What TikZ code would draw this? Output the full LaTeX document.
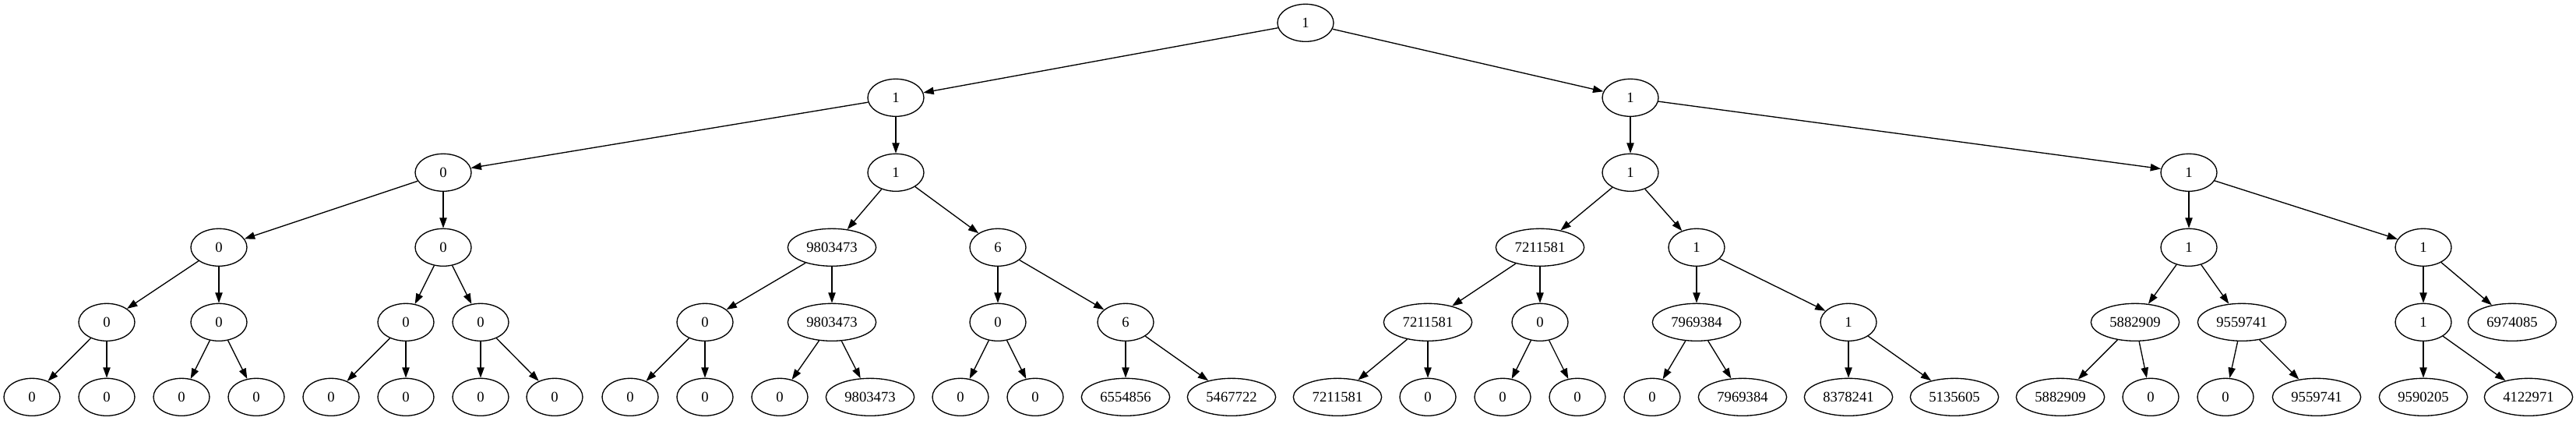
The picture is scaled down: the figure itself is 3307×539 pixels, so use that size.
\documentclass[tikz,border=0pt]{standalone}
\usepackage{fontspec}
\setmainfont{Liberation Serif}
\usetikzlibrary{shapes.geometric,arrows.meta}
\begin{document}
\begin{tikzpicture}[x=0.75pt,y=-0.75pt,
  nd/.style={ellipse,draw,line width=1pt,minimum width=54pt,minimum height=36pt,inner sep=0pt,font=\fontsize{14}{16}\selectfont},
  wd/.style={nd,minimum width=85pt},
  ed/.style={line width=1pt,-{Triangle[length=10pt,width=7pt]}}]
\useasboundingbox (0,0) rectangle (3307,539);
% level 0
\node[nd] (r) at (1676,29.3) {1};
% level 1
\node[nd] (a) at (1150,125.3) {1};
\node[nd] (b) at (2093,125.3) {1};
% level 2
\node[nd] (a1) at (569,221.3) {0};
\node[nd] (a2) at (1150,221.3) {1};
\node[nd] (b1) at (2093,221.3) {1};
\node[nd] (b2) at (2810,221.3) {1};
% level 3
\node[nd] (a11) at (281,317.3) {0};
\node[nd] (a12) at (569,317.3) {0};
\node[wd] (a21) at (1068,317.3) {9803473};
\node[nd] (a22) at (1281,317.3) {6};
\node[wd] (b11) at (1977,317.3) {7211581};
\node[nd] (b12) at (2178,317.3) {1};
\node[nd] (b21) at (2810,317.3) {1};
\node[nd] (b22) at (3111,317.3) {1};
% level 4
\node[nd] (a111) at (137,413.3) {0};
\node[nd] (a112) at (281,413.3) {0};
\node[nd] (a121) at (521,413.3) {0};
\node[nd] (a122) at (617,413.3) {0};
\node[nd] (a211) at (905,413.3) {0};
\node[wd] (a212) at (1068,413.3) {9803473};
\node[nd] (a221) at (1281,413.3) {0};
\node[nd] (a222) at (1445,413.3) {6};
\node[wd] (b111) at (1833,413.3) {7211581};
\node[nd] (b112) at (1977,413.3) {0};
\node[wd] (b121) at (2178,413.3) {7969384};
\node[nd] (b122) at (2373,413.3) {1};
\node[wd] (b211) at (2741,413.3) {5882909};
\node[wd] (b212) at (2878,413.3) {9559741};
\node[nd] (b221) at (3111,413.3) {1};
\node[wd] (b222) at (3225,413.3) {6974085};
% level 5
\node[nd] (a1111) at (41,509.3) {0};
\node[nd] (a1112) at (137,509.3) {0};
\node[nd] (a1121) at (233,509.3) {0};
\node[nd] (a1122) at (329,509.3) {0};
\node[nd] (a1211) at (425,509.3) {0};
\node[nd] (a1212) at (521,509.3) {0};
\node[nd] (a1221) at (617,509.3) {0};
\node[nd] (a1222) at (712,509.3) {0};
\node[nd] (a2111) at (809,509.3) {0};
\node[nd] (a2112) at (905,509.3) {0};
\node[nd] (a2121) at (1001,509.3) {0};
\node[wd] (a2122) at (1117,509.3) {9803473};
\node[nd] (a2211) at (1233,509.3) {0};
\node[nd] (a2212) at (1329,509.3) {0};
\node[wd] (a2221) at (1445,509.3) {6554856};
\node[wd] (a2222) at (1581,509.3) {5467722};
\node[wd] (b1111) at (1717,509.3) {7211581};
\node[nd] (b1112) at (1833,509.3) {0};
\node[nd] (b1121) at (1929,509.3) {0};
\node[nd] (b1122) at (2025,509.3) {0};
\node[nd] (b1211) at (2121,509.3) {0};
\node[wd] (b1212) at (2237,509.3) {7969384};
\node[wd] (b1221) at (2373,509.3) {8378241};
\node[wd] (b1222) at (2509,509.3) {5135605};
\node[wd] (b2111) at (2645,509.3) {5882909};
\node[nd] (b2112) at (2761,509.3) {0};
\node[nd] (b2121) at (2857,509.3) {0};
\node[wd] (b2122) at (2974,509.3) {9559741};
\node[wd] (b2211) at (3111,509.3) {9590205};
\node[wd] (b2212) at (3246,509.3) {4122971};
% edges
\foreach \p/\c in {r/a, r/b, a/a1, a/a2, b/b1, b/b2,
  a1/a11, a1/a12, a2/a21, a2/a22, b1/b11, b1/b12, b2/b21, b2/b22,
  a11/a111, a11/a112, a12/a121, a12/a122, a21/a211, a21/a212, a22/a221, a22/a222,
  b11/b111, b11/b112, b12/b121, b12/b122, b21/b211, b21/b212, b22/b221, b22/b222,
  a111/a1111, a111/a1112, a112/a1121, a112/a1122, a121/a1211, a121/a1212, a122/a1221, a122/a1222,
  a211/a2111, a211/a2112, a212/a2121, a212/a2122, a221/a2211, a221/a2212, a222/a2221, a222/a2222,
  b111/b1111, b111/b1112, b112/b1121, b112/b1122, b121/b1211, b121/b1212, b122/b1221, b122/b1222,
  b211/b2111, b211/b2112, b212/b2121, b212/b2122, b221/b2211, b221/b2212}
  \draw[ed] (\p) -- (\c);
\end{tikzpicture}
\end{document}
